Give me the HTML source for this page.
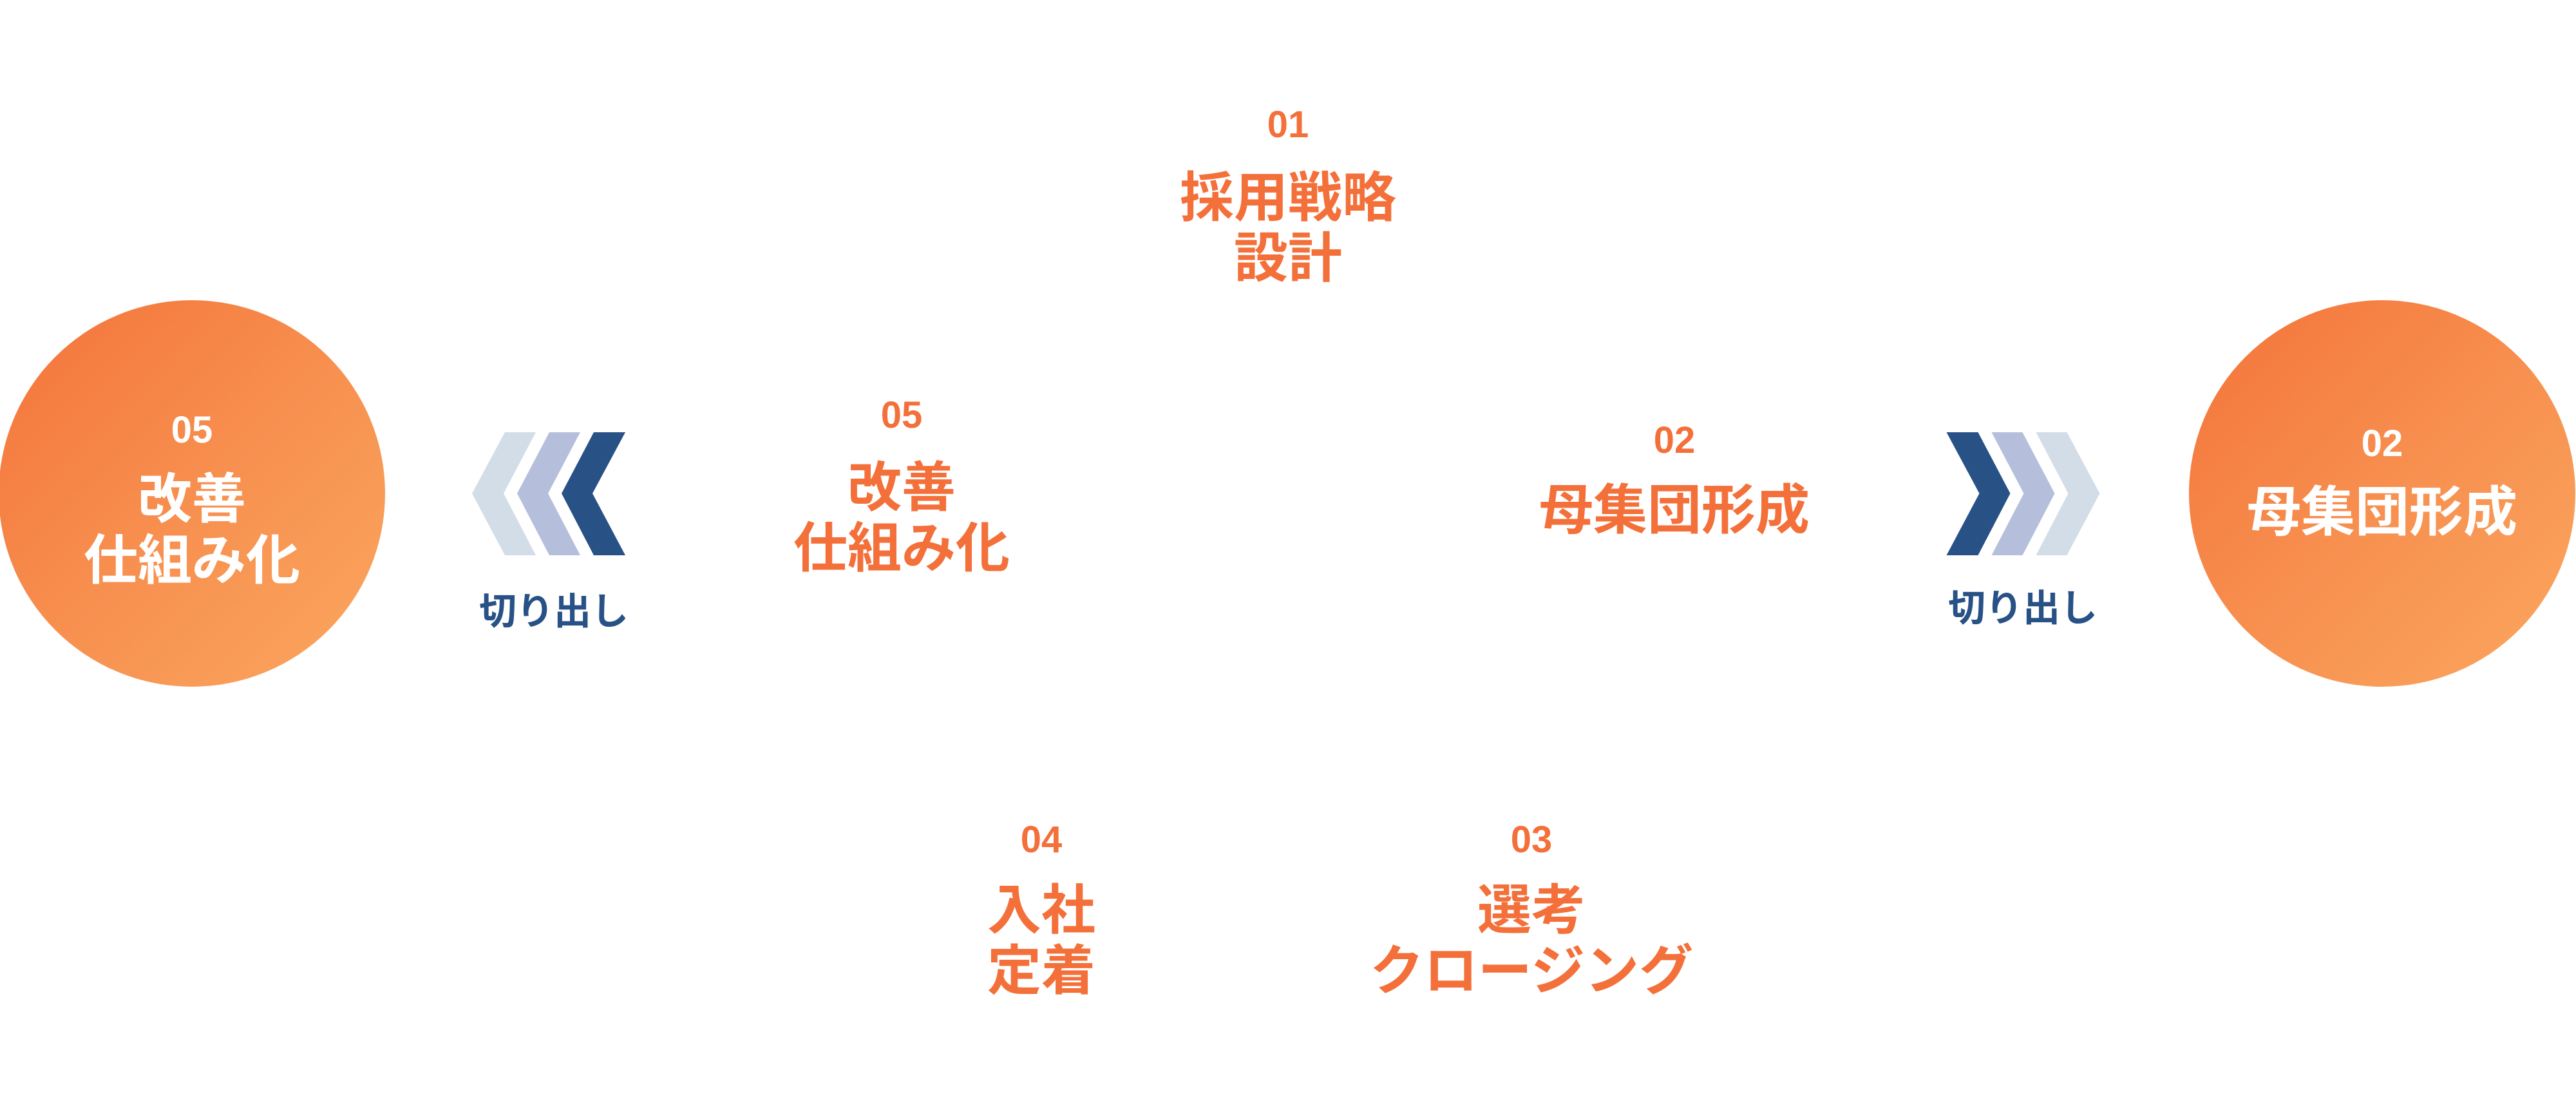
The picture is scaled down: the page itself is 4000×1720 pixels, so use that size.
<!DOCTYPE html>
<html><head><meta charset="utf-8"><style>
html,body{margin:0;padding:0;background:#fff;}
#c{position:relative;width:4000px;height:1720px;overflow:hidden;font-family:"Liberation Sans","Noto Sans CJK JP",sans-serif;font-weight:bold;}
.t{position:absolute;transform:translate(-50%,-50%);white-space:nowrap;text-align:center;line-height:1;}
.o{color:#f4703a;}
.w{color:#fff;}
.n{font-size:58px;}
.j{font-size:84px;}
.b{color:#285186;font-size:58px;}
.circ{position:absolute;width:600px;height:600px;border-radius:50%;background:linear-gradient(135deg,#f4733a 0%,#f78f4f 50%,#fba760 100%);}
</style></head><body><div id="c">
<div class="circ" style="left:-2px;top:466px;"></div>
<div class="circ" style="left:3399px;top:466px;"></div>
<svg width="4000" height="1720" style="position:absolute;left:0;top:0">
<polygon fill="#d3dde7" points="784,671 832,671 782,766 832,862 784,862 733,766"/>
<polygon fill="#b5bfdc" points="853,671 901,671 851,766 901,862 853,862 803,766"/>
<polygon fill="#285186" points="922,671 971,671 920,766 971,862 922,862 872,766"/>
<polygon fill="#d3dde7" points="3209.5,671 3161.5,671 3211.5,766 3161.5,862 3209.5,862 3260.5,766"/>
<polygon fill="#b5bfdc" points="3140.5,671 3092.5,671 3142.5,766 3092.5,862 3140.5,862 3190.5,766"/>
<polygon fill="#285186" points="3071.5,671 3022.5,671 3073.5,766 3022.5,862 3071.5,862 3121.5,766"/>
</svg>
<div class="t w n" style="left:298px;top:668px">05</div>
<div class="t w j" style="left:298px;top:775px">改善</div>
<div class="t w j" style="left:298px;top:870px">仕組み化</div>
<div class="t b" style="left:860px;top:950px">切り出し</div>
<div class="t b" style="left:3141px;top:945px">切り出し</div>
<div class="t w n" style="left:3699px;top:689px">02</div>
<div class="t w j" style="left:3699px;top:795px">母集団形成</div>
<div class="t o n" style="left:2000px;top:194px">01</div>
<div class="t o j" style="left:2000px;top:307px">採用戦略</div>
<div class="t o j" style="left:2000px;top:401px">設計</div>
<div class="t o n" style="left:2600px;top:684px">02</div>
<div class="t o j" style="left:2600px;top:792px">母集団形成</div>
<div class="t o n" style="left:1400px;top:645px">05</div>
<div class="t o j" style="left:1400px;top:757px">改善</div>
<div class="t o j" style="left:1400px;top:851px">仕組み化</div>
<div class="t o n" style="left:1617px;top:1304px">04</div>
<div class="t o j" style="left:1617px;top:1413px">入社</div>
<div class="t o j" style="left:1617px;top:1507px">定着</div>
<div class="t o n" style="left:2378px;top:1304px">03</div>
<div class="t o j" style="left:2378px;top:1413px">選考</div>
<div class="t o j" style="left:2378px;top:1507px">クロージング</div>
</div></body></html>
